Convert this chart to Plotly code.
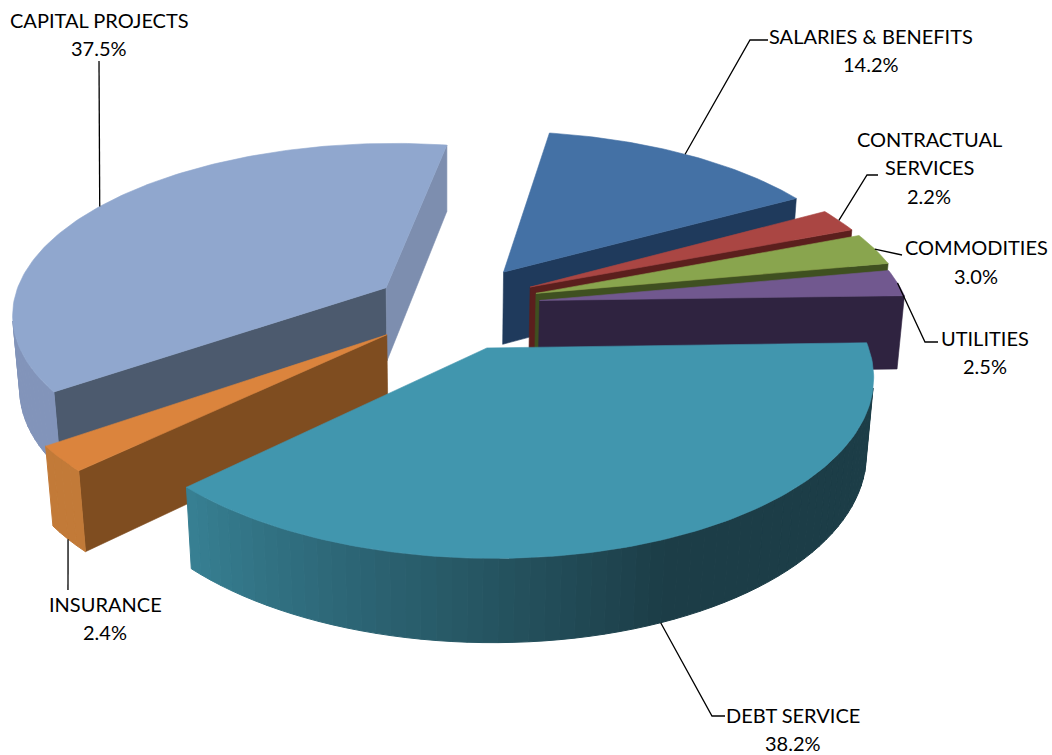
import math
import plotly.graph_objects as go

# Budget shares, clockwise from the first slice
categories = ["SALARIES & BENEFITS", "CONTRACTUAL SERVICES", "COMMODITIES", "UTILITIES",
              "DEBT SERVICE", "INSURANCE", "CAPITAL PROJECTS"]
values = [14.2, 2.2, 3.0, 2.5, 38.2, 2.4, 37.5]

# Explosion of each slice, in pie radii, with small corrections and per-slice radius
pull = [0.25, 0.25, 0.25, 0.25, 0.265, 0.22, 0.195]
nudge = [(0.012, -0.005), (0, 0), (0, 0), (0, 0), (0, 0), (0.012, -0.03), (0, 0)]
radius = [1.0, 1.0, 1.0, 0.985, 0.985, 0.985, 1.0]

# Face colours: top, leading cut face, trailing cut face, outer wall (sweep start and end)
top_col = ["#4471A5", "#AA4643", "#89A54E", "#71588F", "#4196AE", "#DB843D", "#90A7CE"]
cut_start = ["#1F3A5C", "#5B1F1D", "#3F5020", "#2F2340", "#3C8397", "#7F4D20", "#4C5A6E"]
cut_end = ["#1F3A5C", "#5B1F1D", "#3F5020", "#2F2340", "#1B3D47", "#C9803E", "#7D8EAF"]
wall_a = ["#1F3A5C", "#5B1F1D", "#3F5020", "#2F2340", "#1C3D47", "#C27A38", "#8294BA"]
wall_b = ["#1F3A5C", "#5B1F1D", "#3F5020", "#2F2340", "#378093", "#C27A38", "#8FA2C6"]

# Painter's order: rear slices first, the large front slice last
draw_order = [6, 0, 1, 2, 3, 5, 4]

# Label lines and leader routing, in page pixels
label_lines = [["SALARIES &amp; BENEFITS", "14.2%"], ["CONTRACTUAL", "SERVICES", "2.2%"],
               ["COMMODITIES", "3.0%"], ["UTILITIES", "2.5%"], ["DEBT SERVICE", "38.2%"],
               ["INSURANCE", "2.4%"], ["CAPITAL PROJECTS", "37.5%"]]
label_xy = [(871, 50), (929, 167), (976, 261.5), (985, 352), (793, 729), (105, 618), (99, 34)]
LINE_GAP = 28.5
elbows = [[(750, 40), (768, 40)], [(867, 175), (878, 175)], [(902, 255)],
          [(925, 342), (938, 342)], [(712, 716), (725, 716)], [(68, 590)], [(99, 61)]]
leader_z = [0, 0, 0, 0, 1, 1, 0]

# Perspective camera
ELEV = math.radians(27)
CAM = 6.2
FOCAL = 2318
CX, CY = 447, 305
THICK = 0.225
START = 9.5
CAM_Y = -CAM * math.cos(ELEV)


def project(x, y, z):
    d = CAM + y * math.cos(ELEV) - z * math.sin(ELEV)
    return (CX + FOCAL * x / d,
            CY - FOCAL * (y * math.sin(ELEV) + z * math.cos(ELEV)) / d)


def mix(a, b, t):
    ca = [int(a[i:i + 2], 16) for i in (1, 3, 5)]
    cb = [int(b[i:i + 2], 16) for i in (1, 3, 5)]
    return "rgb(%d,%d,%d)" % tuple(round(p + (q - p) * t) for p, q in zip(ca, cb))


def offset(i):
    mid = math.radians(mids[i])
    return (pull[i] * math.sin(mid) + nudge[i][0], pull[i] * math.cos(mid) + nudge[i][1])


def rim(i, ang, z=0.0):
    ox, oy = offset(i)
    a = math.radians(ang)
    return project(ox + radius[i] * math.sin(a), oy + radius[i] * math.cos(a), z)


def apex(i, z=0.0):
    ox, oy = offset(i)
    return project(ox, oy, z)


def faces_viewer(px, py, nx, ny):
    # A vertical face is seen when its normal points back towards the camera
    return px * nx + (py - CAM_Y) * ny < 0


def polygon(pts, color, width=0.6):
    xs = [p[0] for p in pts] + [pts[0][0]]
    ys = [p[1] for p in pts] + [pts[0][1]]
    return go.Scatter(x=xs, y=ys, mode="lines", fill="toself", fillcolor=color,
                      line=dict(color=color, width=width), hoverinfo="skip", showlegend=False)


total = sum(values)
starts, ends, mids = [], [], []
angle = START
for v in values:
    starts.append(angle)
    angle += 360 * v / total
    ends.append(angle)
    mids.append((starts[-1] + ends[-1]) / 2)

fig = go.Figure()
for i in draw_order:
    s, e = starts[i], ends[i]
    ox, oy = offset(i)
    rs, re = math.radians(s), math.radians(e)
    # cut faces
    if faces_viewer(ox, oy, -math.cos(rs), math.sin(rs)):
        fig.add_trace(polygon([apex(i), rim(i, s), rim(i, s, -THICK), apex(i, -THICK)], cut_start[i]))
    if faces_viewer(ox, oy, math.cos(re), -math.sin(re)):
        fig.add_trace(polygon([apex(i), rim(i, e), rim(i, e, -THICK), apex(i, -THICK)], cut_end[i]))
    # outer wall, split into strips so the shading can sweep round it
    n = max(3, int((e - s) / 2))
    for k in range(n):
        a0 = s + (e - s) * k / n
        a1 = s + (e - s) * (k + 1) / n
        am = math.radians((a0 + a1) / 2)
        px = ox + math.sin(am)
        py = oy + math.cos(am)
        if faces_viewer(px, py, math.sin(am), math.cos(am)):
            tone = max(0.0, 2 * (k + 0.5) / n - 1)
            fig.add_trace(polygon([rim(i, a0), rim(i, a1), rim(i, a1, -THICK), rim(i, a0, -THICK)],
                                  mix(wall_a[i], wall_b[i], tone), width=1))
    # top
    steps = max(4, int(e - s))
    fig.add_trace(polygon([apex(i)] + [rim(i, s + (e - s) * k / steps) for k in range(steps + 1)],
                          top_col[i]))

# Leaders start on the rim at each slice's mid angle
for i in range(len(values)):
    p = rim(i, mids[i], -THICK * leader_z[i])
    route = [p] + elbows[i]
    fig.add_trace(go.Scatter(x=[q[0] for q in route], y=[q[1] for q in route], mode="lines",
                             line=dict(color="#000000", width=1.3), hoverinfo="skip", showlegend=False))
    lines = label_lines[i]
    for j, line in enumerate(lines):
        fig.add_annotation(x=label_xy[i][0], y=label_xy[i][1] + (j - (len(lines) - 1) / 2) * LINE_GAP,
                           text=line, showarrow=False, xanchor="center", yanchor="middle",
                           font=dict(family="Lato", size=20, color="#000000"))

fig.update_layout(width=1052, height=755, margin=dict(l=0, r=0, t=0, b=0),
                  paper_bgcolor="white", plot_bgcolor="white", showlegend=False,
                  xaxis=dict(range=[0, 1052], visible=False, fixedrange=True),
                  yaxis=dict(range=[755, 0], visible=False, fixedrange=True))
fig.write_html("out.html")
